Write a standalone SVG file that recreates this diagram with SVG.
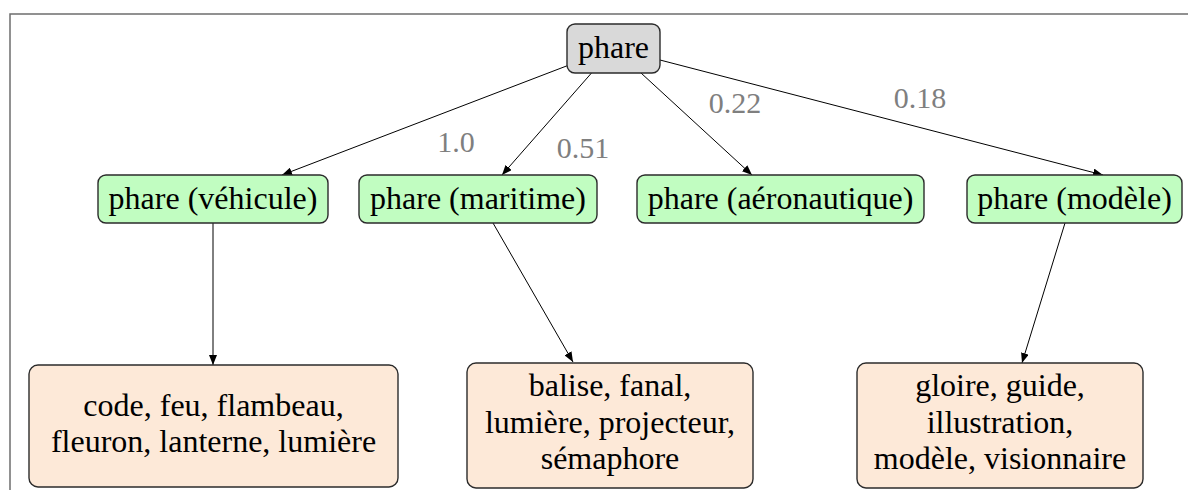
<svg xmlns="http://www.w3.org/2000/svg" width="1188" height="490" viewBox="0 0 1188 490">
<style>
.t{font-family:'Liberation Serif','Times New Roman',serif;font-size:32px;fill:#000;text-anchor:middle}
.lbl{font-family:'Liberation Serif','Times New Roman',serif;font-size:30px;fill:#7f7f7f;text-anchor:middle}
.box{stroke:#2b2b2b;stroke-width:1.4}
.root{fill:#d9d9d9}
.sense{fill:#c1fdc1}
.syn{fill:#fde9d8}
.edge{stroke:#000;stroke-width:1;fill:none;marker-end:url(#arr)}
</style>
<defs>
<marker id="arr" viewBox="0 0 10 8" refX="10" refY="4" markerWidth="10" markerHeight="8" markerUnits="userSpaceOnUse" orient="auto">
<path d="M0,0 L10,4 L0,8 z" fill="#000"/>
</marker>
</defs>
<rect width="1188" height="490" fill="#fff"/>
<path d="M10,490 V14 H1188" fill="none" stroke="#6e6e6e" stroke-width="1.5"/>
<g id="connectors">
<line class="edge" x1="567" y1="65.8" x2="282" y2="175"/>
<line class="edge" x1="591.5" y1="73" x2="502" y2="175"/>
<line class="edge" x1="641" y1="73" x2="752" y2="175"/>
<line class="edge" x1="660" y1="60" x2="1103" y2="175"/>
<line class="edge" x1="213" y1="223" x2="213" y2="365"/>
<line class="edge" x1="493" y1="223" x2="573" y2="362"/>
<line class="edge" x1="1065" y1="223" x2="1022" y2="363"/>
<text class="lbl" x="456" y="152">1.0</text>
<text class="lbl" x="583" y="158">0.51</text>
<text class="lbl" x="735" y="113">0.22</text>
<text class="lbl" x="920" y="108">0.18</text>
</g>
<g id="n-phare">
<rect class="box root" x="567" y="24" width="93" height="49" rx="8"/>
<text class="t" x="613.5" y="58">phare</text>
</g>
<g id="n-vehicule">
<rect class="box sense" x="98" y="175" width="230" height="48" rx="8"/>
<text class="t" x="213" y="209">phare (véhicule)</text>
</g>
<g id="n-maritime">
<rect class="box sense" x="359" y="175" width="238" height="48" rx="8"/>
<text class="t" x="478" y="209">phare (maritime)</text>
</g>
<g id="n-aero">
<rect class="box sense" x="637" y="175" width="287" height="48" rx="8"/>
<text class="t" x="780.5" y="209">phare (aéronautique)</text>
</g>
<g id="n-modele">
<rect class="box sense" x="967" y="175" width="215" height="48" rx="8"/>
<text class="t" x="1074.5" y="209">phare (modèle)</text>
</g>
<g id="s-vehicule">
<rect class="box syn" x="29" y="365" width="369" height="122" rx="9"/>
<text class="t" x="213.5" y="416">code, feu, flambeau,</text>
<text class="t" x="213.5" y="452">fleuron, lanterne, lumière</text>
</g>
<g id="s-maritime">
<rect class="box syn" x="467" y="363" width="286" height="125" rx="9"/>
<text class="t" x="610" y="396">balise, fanal,</text>
<text class="t" x="610" y="433">lumière, projecteur,</text>
<text class="t" x="610" y="469">sémaphore</text>
</g>
<g id="s-modele">
<rect class="box syn" x="857" y="363" width="286" height="125" rx="9"/>
<text class="t" x="1000" y="396">gloire, guide,</text>
<text class="t" x="1000" y="433">illustration,</text>
<text class="t" x="1000" y="469">modèle, visionnaire</text>
</g>
</svg>
